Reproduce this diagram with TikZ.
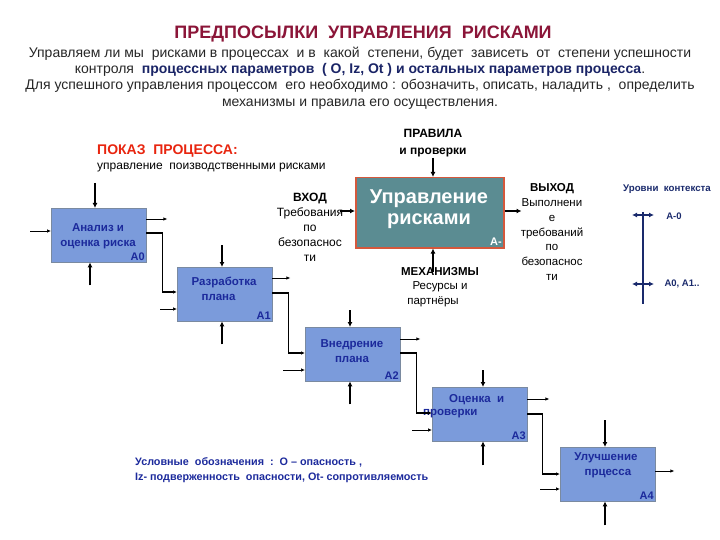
\documentclass[tikz,border=0pt]{standalone}
\usepackage{fontspec}
\setmainfont{Liberation Sans}
\usetikzlibrary{arrows.meta, positioning}

\definecolor{boxfill}{HTML}{7B9BDB}
\definecolor{boxedge}{HTML}{7A8AA0}
\definecolor{boxtext}{HTML}{1C2A9C}
\definecolor{riskfill}{HTML}{5B8C92}
\definecolor{riskedge}{HTML}{D5583C}
\definecolor{titlered}{HTML}{8B1538}
\definecolor{showred}{HTML}{E8250F}
\definecolor{boldblue}{HTML}{1A2466}
\definecolor{navy}{HTML}{1A2A6C}

\newcommand{\fs}[2]{\fontsize{#1}{#2}\selectfont}

\begin{document}
\begin{tikzpicture}[x=1pt, y=-1pt,
  proc/.style={draw=boxedge, fill=boxfill, minimum width=95pt, minimum height=54pt, anchor=north west, inner sep=0pt},
  ptext/.style={text=boxtext, font=\fs{11.5}{15}\bfseries, align=center, inner sep=0pt},
  pnum/.style={text=boxtext, font=\fs{11}{13}\bfseries, anchor=south east, inner sep=1.5pt},
  lbl/.style={font=\fs{12}{15}, align=center, inner sep=0pt},
  thin/.style={-{Latex[length=4pt,width=3.5pt]}, line width=0.7pt},
  heavy/.style={-{Latex[length=5pt,width=5pt]}, line width=1.8pt},
  link/.style={-{Latex[length=4pt,width=3.5pt]}, line width=1.2pt}
]
\useasboundingbox (0,0) rectangle (720,540);

% heading
\node[font=\fs{18}{20}\bfseries, text=titlered] (title) at (363,34) {ПРЕДПОСЫЛКИ\ \ УПРАВЛЕНИЯ\ \ РИСКАМИ};
\node[font=\fs{14}{16.3}, align=center, inner sep=0pt, text=black!85] (intro) at (360,78) {%
  Управляем ли мы\ \ рисками в процессах\ \ и в\ \ какой\ \ степени, будет\ \ зависеть\ \ от\ \ степени успешности\\
  контроля\ \ \textcolor{boldblue}{\textbf{процессных параметров\ \ ( O, Iz, Ot ) и остальных параметров процесса}}.\\
  Для успешного управления процессом\ \ его необходимо : обозначить, описать, наладить ,\ \ определить\\
  механизмы и правила его осуществления.};

\node[font=\fs{14}{16}\bfseries, text=showred, anchor=west, inner sep=0pt] (show) at (97,151) {ПОКАЗ\ \ ПРОЦЕССА:};
\node[font=\fs{12}{14}, anchor=west, inner sep=0pt] (showsub) at (97,168) {управление\ \ поизводственными рисками};

% context box
\node[draw=riskedge, line width=1.5pt, fill=riskfill, minimum width=148pt, minimum height=70pt, anchor=north west] (risk) at (355,177) {};
\node[font=\fs{20}{21}\bfseries, text=white, align=center, inner sep=0pt] (risktxt) at (429,209) {Управление\\рисками};
\node[font=\fs{11}{13}\bfseries, text=white, anchor=south east, inner sep=2.5pt] (risknum) at (risk.south east) {A-};

\node[font=\fs{12}{17}\bfseries, align=center, inner sep=0pt] (rules) at (433,143) {ПРАВИЛА\\и проверки};
\node[lbl] (input) at (310,227) {\textbf{ВХОД}\\Требования\\по\\безопаснос\\ти};
\node[lbl, font=\fs{11.5}{14.5}] (mech) at (440,287) {\textbf{МЕХАНИЗМЫ}\\Ресурсы и\\\hspace*{-14pt}партнёры};
\node[lbl, font=\fs{11.5}{14.7}] (output) at (552,232) {\textbf{ВЫХОД}\\Выполнени\\е\\требований\\по\\безопаснос\\ти};

\draw[heavy] ([shift={(78,-19)}]risk.north west) -- ([shift={(78,0)}]risk.north west);
\draw[heavy] ([shift={(-15,34)}]risk.north west) -- ([shift={(0,34)}]risk.north west);
\draw[heavy] ([shift={(0,34)}]risk.north east) -- ([shift={(17,34)}]risk.north east);
\draw[heavy] ([shift={(78,23)}]risk.south west) -- ([shift={(78,0)}]risk.south west);

% context levels
\node[font=\fs{9.7}{11}\bfseries, text=navy] (levels) at (667,189) {Уровни\ \ контекста};
\coordinate (lvltop) at (643,212);
\coordinate (lvlbot) at (643,304);
\draw[navy, line width=1.5pt] (lvltop) -- (lvlbot);
\draw[navy, line width=1.5pt, {Latex[length=5pt,width=5pt]}-{Latex[length=5pt,width=5pt]}] ([shift={(-11,3)}]lvltop) -- ([shift={(11,3)}]lvltop);
\draw[navy, line width=1.5pt, {Latex[length=5pt,width=5pt]}-{Latex[length=5pt,width=5pt]}] ([shift={(-11,-20)}]lvlbot) -- ([shift={(11,-20)}]lvlbot);
\node[font=\fs{9.5}{11}\bfseries, text=navy] (lvl0) at (674,216) {A-0};
\node[font=\fs{9.5}{11}\bfseries, text=navy] (lvl1) at (682,284) {A0, A1..};

% A0
\node[proc] (a0) at (51,208) {};
\node[ptext] (a0txt) at (98,236) {Анализ и\\оценка риска};
\node[pnum] (a0num) at (a0.south east) {A0};
% A1
\node[proc] (a1) at (177,267) {};
\node[ptext, align=left] (a1txt) at (224,289) {Разработка\\\hspace*{10pt}плана};
\node[pnum] (a1num) at (a1.south east) {A1};
% A2
\node[proc] (a2) at (305,327) {};
\node[ptext] (a2txt) at (352,351) {Внедрение\\плана};
\node[pnum] (a2num) at (a2.south east) {A2};
% A3
\node[proc] (a3) at (432,387) {};
\node[ptext, font=\fs{11.5}{13.5}\bfseries, align=left, anchor=north west] (a3txt) at (423,394) {\hspace*{26pt}Оценка\ \ и\\проверки};
\node[pnum] (a3num) at (a3.south east) {A3};
% A4
\node[proc] (a4) at (560,447) {};
\node[ptext] (a4txt) at (606,465) {Улучшение\\\hspace*{4pt}прцесса};
\node[pnum] (a4num) at (a4.south east) {A4};

% A0 arrows
\draw[heavy] ([shift={(44,-25)}]a0.north west) -- ([shift={(44,0)}]a0.north west);
\draw[thin] ([shift={(-21,23)}]a0.north west) -- ([shift={(0,23)}]a0.north west);
\draw[thin] ([shift={(0,11)}]a0.north east) -- ([shift={(21,11)}]a0.north east);
\draw[link] ([shift={(0,25)}]a0.north east) -- ++(16,0) |- ([shift={(0,25)}]a1.north west);
\draw[heavy] ([shift={(39,23)}]a0.south west) -- ([shift={(39,0)}]a0.south west);

% A1 arrows
\draw[heavy] ([shift={(45,-22)}]a1.north west) -- ([shift={(45,0)}]a1.north west);
\draw[thin] ([shift={(-17,42)}]a1.north west) -- ([shift={(0,42)}]a1.north west);
\draw[thin] ([shift={(0,11)}]a1.north east) -- ([shift={(18,11)}]a1.north east);
\draw[link] ([shift={(0,26)}]a1.north east) -- ++(16,0) |- ([shift={(0,26)}]a2.north west);
\draw[heavy] ([shift={(45,23)}]a1.south west) -- ([shift={(45,0)}]a1.south west);

% A2 arrows
\draw[heavy] ([shift={(45,-17)}]a2.north west) -- ([shift={(45,0)}]a2.north west);
\draw[thin] ([shift={(-22,43)}]a2.north west) -- ([shift={(0,43)}]a2.north west);
\draw[thin] ([shift={(0,12)}]a2.north east) -- ([shift={(20,12)}]a2.north east);
\draw[link] ([shift={(0,26)}]a2.north east) -- ++(16,0) |- ([shift={(0,26)}]a3.north west);
\draw[heavy] ([shift={(45,23)}]a2.south west) -- ([shift={(45,0)}]a2.south west);

% A3 arrows
\draw[heavy] ([shift={(51,-17)}]a3.north west) -- ([shift={(51,0)}]a3.north west);
\draw[thin] ([shift={(-20,43)}]a3.north west) -- ([shift={(0,43)}]a3.north west);
\draw[thin] ([shift={(0,12)}]a3.north east) -- ([shift={(22,12)}]a3.north east);
\draw[link, line width=1.8pt] ([shift={(0,27)}]a3.north east) -- ++(15,0) |- ([shift={(0,27)}]a4.north west);
\draw[heavy] ([shift={(51,24)}]a3.south west) -- ([shift={(51,0)}]a3.south west);

% A4 arrows
\draw[heavy] ([shift={(45,-27)}]a4.north west) -- ([shift={(45,0)}]a4.north west);
\draw[thin] ([shift={(-20,42)}]a4.north west) -- ([shift={(0,42)}]a4.north west);
\draw[thin] ([shift={(0,24)}]a4.north east) -- ([shift={(19,24)}]a4.north east);
\draw[heavy] ([shift={(45,24)}]a4.south west) -- ([shift={(45,0)}]a4.south west);

% legend
\node[font=\fs{10.8}{15}\bfseries, text=boxtext, anchor=west, align=left, inner sep=0pt] (legend) at (135,470) {%
  Условные\ \ обозначения\ \ :\ \ О -- опасность ,\\
  Iz- подверженность\ \ опасности, Ot- сопротивляемость};
\end{tikzpicture}
\end{document}
